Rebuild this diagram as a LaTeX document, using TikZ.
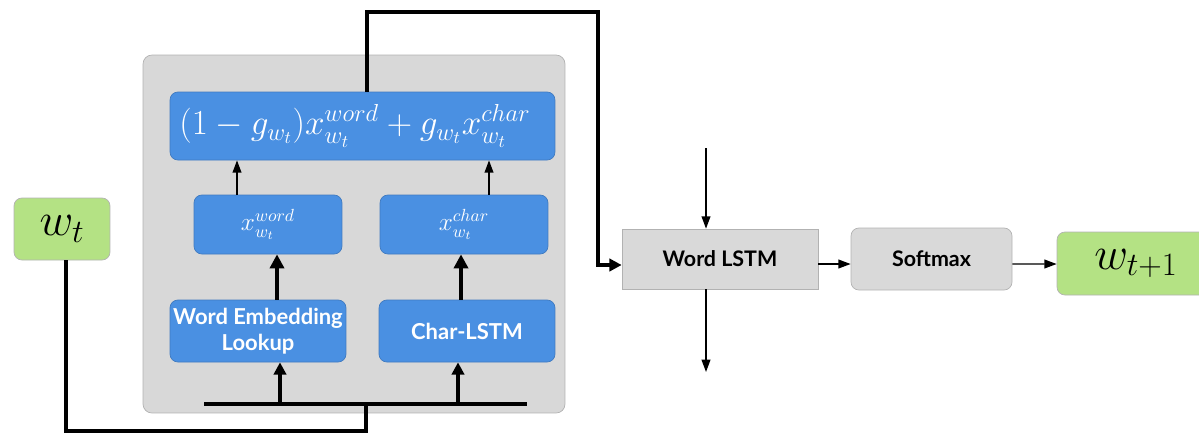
\RequirePackage{fix-cm}
\documentclass[tikz,border=0pt]{standalone}
\usepackage{amsmath}
\usepackage{fontspec}
\setsansfont{Lato}
\usetikzlibrary{arrows.meta}

\definecolor{boxblue}{RGB}{74,144,226}
\definecolor{panelgray}{RGB}{216,216,216}
\definecolor{lstmgray}{RGB}{217,217,217}
\definecolor{wordgreen}{RGB}{180,226,132}

\tikzset{
  blk/.style={draw=boxblue!85!black, fill=boxblue, rounded corners=4.5pt, text=white,
    font=\sffamily\bfseries\fontsize{12.5}{15}\selectfont, align=center, inner sep=0pt},
  graybox/.style={draw=black!30, fill=lstmgray, inner sep=0pt,
    font=\sffamily\bfseries\fontsize{12.2}{14}\selectfont},
  tokbox/.style={draw=black!30, fill=wordgreen, rounded corners=4.5pt, inner sep=0pt},
  bus/.style={line width=2.2pt},
  thickarr/.style={line width=2.2pt, -{Triangle[width=8pt,length=8pt]}},
  thinarr/.style={line width=0.8pt, -{Triangle[width=5pt,length=7pt]}},
  busarr/.style={line width=2.2pt, -{Triangle[width=7pt,length=7pt]}},
}

\begin{document}
\begin{tikzpicture}[x=0.02cm,y=-0.02cm]
  \useasboundingbox (0,0) rectangle (1199,434);

  % grauer Kasten um die Wortdarstellung
  \node[draw=black!30, fill=panelgray, rounded corners=5pt, minimum width=8.44cm,
    minimum height=7.16cm] (panel) at (354,234) {};

  % Bausteine im Kasten
  \node[blk, minimum width=7.7cm, minimum height=1.36cm] (mix) at (362.5,126)
    {\fontsize{20}{23}\selectfont $(1-g_{w_t})x_{w_t}^{word}+g_{w_t}x_{w_t}^{char}$\hspace{0.3cm}};
  \node[blk, minimum width=2.96cm, minimum height=1.18cm] (xword) at (268,224.5)
    {\fontsize{14.4}{17}\selectfont $x_{w_t}^{word}$};
  \node[blk, minimum width=3.36cm, minimum height=1.18cm] (xchar) at (464,224.5)
    {\fontsize{14.4}{17}\selectfont $x_{w_t}^{char}$};
  \node[blk, minimum width=3.52cm, minimum height=1.24cm] (embed) at (258,331)
    {Word Embedding\\Lookup};
  \node[blk, minimum width=3.52cm, minimum height=1.24cm] (charlstm) at (467,331)
    {Char-LSTM};

  % Ein- und Ausgabe
  \node[tokbox, minimum width=1.92cm, minimum height=1.24cm] (wt) at (62,229)
    {\fontsize{26.5}{31}\selectfont $w_t$};
  \node[graybox, minimum width=3.92cm, minimum height=1.2cm] (wlstm) at (720,259)
    {Word LSTM};
  \node[graybox, rounded corners=4.5pt, minimum width=3.22cm, minimum height=1.24cm]
    (softmax) at (931.5,259) {Softmax};
  \node[tokbox, minimum width=3.16cm, minimum height=1.26cm] (wnext) at (1136,263.5)
    {\fontsize{26.5}{31}\selectfont $w_{t+1}$\hspace{0.1cm}};

  % Hilfspunkte
  \coordinate (busL) at (204,404);
  \coordinate (busR) at (527,404);
  \coordinate (busM) at (366,404);
  \coordinate (low) at (366,431);
  \coordinate (turn) at (598,12);
  \coordinate (hin) at (706,148);
  \coordinate (hout) at (706,372);

  % Eingang w_t zur Sammelleitung
  \draw[bus] (busL) -- (busR);
  \draw[bus] ([xshift=0.08cm]wt.south) |- (low) -- (busM);
  \draw[busarr] (busL -| 280,0) -- (280,0 |- embed.south);
  \draw[busarr] (busR -| 458,0) -- (458,0 |- charlstm.south);

  % Pfeile im Kasten
  \draw[thickarr] (277,0 |- embed.north) -- (277,0 |- xword.south);
  \draw[thickarr] (461,0 |- charlstm.north) -- (461,0 |- xchar.south);
  \draw[thinarr] (237,0 |- xword.north) -- (237,0 |- mix.south);
  \draw[thinarr] (489,0 |- xchar.north) -- (489,0 |- mix.south);

  % Ausgang zum Word LSTM
  \draw[busarr] ([xshift=0.09cm]mix.north) |- (turn) |- ([yshift=-0.12cm]wlstm.west);
  \draw[thinarr] (hin) -- (hin |- wlstm.north);
  \draw[thinarr] (hout |- wlstm.south) -- (hout);
  \draw[thinarr] ([yshift=-0.1cm]wlstm.east) -- ([yshift=-0.1cm]softmax.west);
  \draw[thinarr] ([yshift=-0.1cm]softmax.east) -- (wnext.west |- 0,264);
\end{tikzpicture}
\end{document}
